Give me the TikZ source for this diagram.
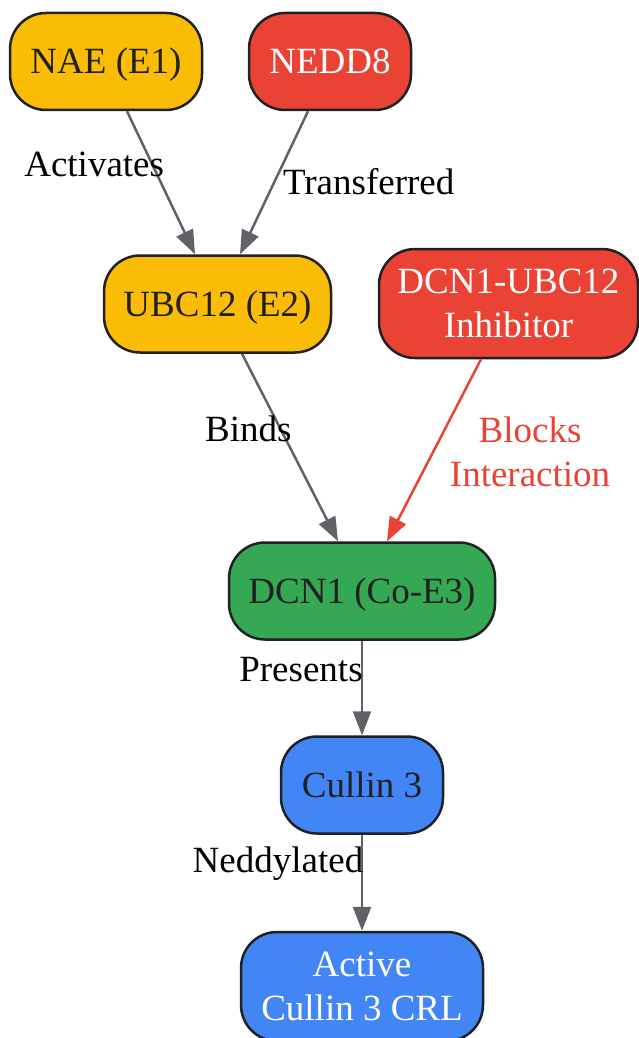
\documentclass[tikz,border=0pt]{standalone}
\usepackage{fontspec}
\setmainfont{Liberation Serif}
\usepackage{xcolor}
\usepackage{tikz}
\usetikzlibrary{arrows.meta, positioning}

\definecolor{gyellow}{HTML}{FBBC05}
\definecolor{gred}{HTML}{EA4335}
\definecolor{ggreen}{HTML}{34A853}
\definecolor{gblue}{HTML}{4285F4}
\definecolor{ggray}{HTML}{5F6368}
\definecolor{gdark}{HTML}{202124}

\tikzset{
  box/.style={draw=gdark, line width=2.5pt, rounded corners=36pt, align=center,
    minimum height=97pt, inner sep=0pt, font=\fontsize{37}{43.5}\selectfont},
  oneline/.style={text height=25pt, text depth=0pt},
  flow/.style={draw=ggray, line width=2.5pt, -{Triangle[length=24pt,width=18pt]}},
  lbl/.style={font=\fontsize{37}{43.5}\selectfont, align=center}
}

\begin{document}
\begin{tikzpicture}[x=1pt, y=-1pt]
    \useasboundingbox (0,0) rectangle (639,1038);
    % pathway nodes
    \node[box, oneline, fill=gyellow, text=gdark, minimum width=192pt] (nae) at (106,61.5) {NAE (E1)};
    \node[box, oneline, fill=gred, text=white, minimum width=162pt] (nedd) at (330,61.5) {NEDD8};
    \node[box, oneline, fill=gyellow, text=gdark, minimum width=227pt] (ubc) at (217.5,304) {UBC12 (E2)};
    \node[box, fill=gred, text=white, minimum width=259pt, minimum height=109pt] (inhib) at (508.5,303.5) {DCN1-UBC12\\Inhibitor};
    \node[box, oneline, fill=ggreen, text=gdark, minimum width=266pt] (dcn) at (362,591) {DCN1 (Co-E3)};
    \node[box, oneline, fill=gblue, text=gdark, minimum width=162pt] (cul) at (362,785) {Cullin 3};
    \node[box, fill=gblue, text=white, minimum width=242pt, minimum height=109pt] (crl) at (362,986.5) {Active\\Cullin 3 CRL};
    % edges
    \draw[flow] ([xshift=21pt]nae.south) -- ([xshift=-22.5pt]ubc.north)
      node[lbl, pos=0.37, xshift=-58pt]{Activates};
    \draw[flow] ([xshift=-22pt]nedd.south) -- ([xshift=22.5pt]ubc.north)
      node[lbl, pos=0.49, xshift=94pt]{Transferred};
    \draw[flow] ([xshift=24.5pt]ubc.south) -- ([xshift=-24pt]dcn.north)
      node[lbl, pos=0.4, xshift=-32pt]{Binds};
    \draw[flow, draw=gred, fill=gred] ([xshift=-27.5pt]inhib.south) -- ([xshift=25pt]dcn.north)
      node[lbl, text=gred, pos=0.51, xshift=97pt]{Blocks\\Interaction};
    \draw[flow] (dcn) -- (cul)
      node[lbl, pos=0.3, xshift=-61pt]{Presents};
    \draw[flow] (cul) -- (crl)
      node[lbl, pos=0.3, xshift=-84pt]{Neddylated};
  \end{tikzpicture}
\end{document}
